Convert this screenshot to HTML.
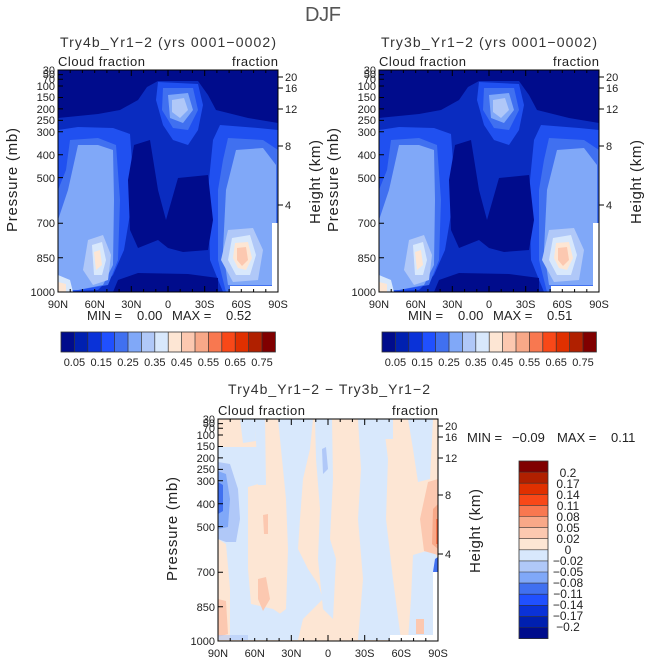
<!DOCTYPE html>
<html><head><meta charset="utf-8"><style>
html,body{margin:0;padding:0;background:#fff;}
svg{display:block;font-family:"Liberation Sans",sans-serif;}
</style></head><body>
<svg width="647" height="664" viewBox="0 0 647 664" xmlns="http://www.w3.org/2000/svg">
<defs>
<g id="field">
  <rect x="0" y="0" width="220" height="222" fill="#000c8c"/>
  <path d="M0,48 L40,44 L62,40 L80,30 L89,17 L100,11 L140,11 L150,25 L158,40 L190,48 L220,53 L220,222 L0,222 Z" fill="#0a2cc0"/>
  <path d="M0,60 L20,57 L55,58 L72,64 L76,120 L66,180 L55,205 L40,220 L0,222 Z" fill="#2050f0"/>
  <path d="M162,55 L200,58 L220,60 L220,222 L165,222 L152,190 L150,120 L155,70 Z" fill="#2050f0"/>
  <path d="M100,12 L140,14 L145,35 L140,60 L130,75 L115,70 L105,55 L98,30 Z" fill="#2050f0"/>
  <path d="M12,70 L40,68 L58,75 L62,130 L60,190 L50,215 L20,220 L0,222 L0,120 L8,100 Z" fill="#4070f0"/>
  <path d="M170,68 L205,70 L220,80 L220,222 L168,222 L160,190 L160,120 L165,90 Z" fill="#4070f0"/>
  <path d="M105,18 L135,18 L140,40 L130,60 L115,58 L104,40 Z" fill="#4070f0"/>
  <path d="M20,75 L40,75 L55,80 L56,130 L55,195 L45,215 L20,220 L0,220 L0,150 L10,120 Z" fill="#80a8f8"/>
  <path d="M178,80 L205,78 L218,95 L218,215 L170,215 L165,180 L168,120 Z" fill="#80a8f8"/>
  <path d="M110,25 L130,23 L135,40 L125,53 L112,48 Z" fill="#80a8f8"/>
  <path d="M30,170 L45,165 L53,185 L50,210 L35,215 L25,200 Z" fill="#b0c8f8"/>
  <path d="M170,160 L195,158 L205,180 L200,210 L175,212 L163,190 Z" fill="#b0c8f8"/>
  <path d="M114,30 L126,28 L130,40 L122,48 L114,42 Z" fill="#b0c8f8"/>
  <path d="M0,205 L12,210 L15,222 L0,222 Z" fill="#d8e8fc"/>
  <path d="M34,175 L44,172 L48,190 L44,205 L36,205 Z" fill="#d8e8fc"/>
  <path d="M174,168 L192,165 L198,185 L192,205 L178,205 L170,190 Z" fill="#d8e8fc"/>
  <path d="M36,182 L42,180 L44,195 L38,200 Z" fill="#fde6d4"/>
  <path d="M0,212 L8,214 L8,222 L0,222 Z" fill="#fde6d4"/>
  <path d="M177,173 L190,172 L194,188 L188,200 L180,198 L175,188 Z" fill="#fde6d4"/>
  <path d="M179,178 L188,177 L190,190 L184,196 L179,190 Z" fill="#fcc8b0"/>
  <path d="M76,75 L92,70 L100,120 L108,150 L120,108 L150,105 L155,150 L150,180 L125,182 L110,178 L100,170 L80,178 L72,160 L70,110 Z" fill="#000c8c"/>
  <path d="M60,210 L80,203 L130,204 L160,208 L160,222 L55,222 Z" fill="#000c8c"/>
  <rect x="172" y="216" width="48" height="6" fill="#fff"/>
  <rect x="214" y="153" width="6" height="69" fill="#fff"/>
</g>
<g id="axes" fill="none" stroke="#000" stroke-width="1">
  <rect x="0" y="0" width="220" height="222"/>
  <path d="M0,0h5M0,4.6h5M0,9.2h5M0,16h5M0,27.5h5M0,38.9h5M0,50.4h5M0,61.8h5M0,84.7h5M0,107.6h5M0,153.3h5M0,187.7h5"/>
  <path d="M220,7h5M220,18h5M220,39h5M220,76h5M220,135h5"/>
  <path d="M0,222v-6M73.3,222v-6M146.7,222v-6M110,222v-6M220,222v-6M24.4,222v-3M48.9,222v-3M97.8,222v-3M122.2,222v-3M171.1,222v-3M195.6,222v-3M36.7,222v-3M61.1,222v-3M85.6,222v-3M134.4,222v-3M158.9,222v-3M183.3,222v-3M207.8,222v-3M12.2,222v-3"/>
  <path d="M0,0v6M73.3,0v6M146.7,0v6M110,0v6M220,0v6M24.4,0v3M48.9,0v3M97.8,0v3M122.2,0v3M171.1,0v3M195.6,0v3M36.7,0v3M61.1,0v3M85.6,0v3M134.4,0v3M158.9,0v3M183.3,0v3M207.8,0v3M12.2,0v3"/>
</g>
<g id="labels" fill="#222" font-size="11">
  <g text-anchor="end">
    <text x="-3" y="4">30</text><text x="-3" y="8">50</text><text x="-3" y="13">70</text><text x="-3" y="20">100</text><text x="-3" y="31">150</text><text x="-3" y="43">200</text><text x="-3" y="54">250</text><text x="-3" y="66">300</text><text x="-3" y="89">400</text><text x="-3" y="112">500</text><text x="-3" y="157">700</text><text x="-3" y="192">850</text><text x="-3" y="226">1000</text>
  </g>
  <text x="227" y="11">20</text><text x="227" y="22">16</text><text x="227" y="43">12</text><text x="227" y="80">8</text><text x="227" y="139">4</text>
  <g text-anchor="middle">
    <text x="0" y="238">90N</text><text x="36.7" y="238">60N</text><text x="73.3" y="238">30N</text><text x="110" y="238">0</text><text x="146.7" y="238">30S</text><text x="183.3" y="238">60S</text><text x="220" y="238">90S</text>
  </g>
  <text x="0" y="-4" font-size="13" textLength="87" lengthAdjust="spacing">Cloud fraction</text>
  <text x="174" y="-4" font-size="13" textLength="46" lengthAdjust="spacing">fraction</text>
  <text transform="translate(-41,110) rotate(-90)" x="-52" font-size="15" textLength="104" lengthAdjust="spacing">Pressure (mb)</text>
  <text transform="translate(262,112) rotate(-90)" x="-42" font-size="15" textLength="84" lengthAdjust="spacing">Height (km)</text>
</g>
<g id="cbar">
  <rect x="0" y="0" width="13.4" height="20" fill="#000c8c"/>
  <rect x="13.4" y="0" width="13.4" height="20" fill="#0020b0"/>
  <rect x="26.8" y="0" width="13.4" height="20" fill="#0a32d8"/>
  <rect x="40.2" y="0" width="13.4" height="20" fill="#2050ff"/>
  <rect x="53.6" y="0" width="13.4" height="20" fill="#4070f0"/>
  <rect x="67" y="0" width="13.4" height="20" fill="#80a8f8"/>
  <rect x="80.4" y="0" width="13.4" height="20" fill="#b0c8f8"/>
  <rect x="93.8" y="0" width="13.4" height="20" fill="#d8e8fc"/>
  <rect x="107.2" y="0" width="13.4" height="20" fill="#fde6d4"/>
  <rect x="120.6" y="0" width="13.4" height="20" fill="#fcc8b0"/>
  <rect x="134" y="0" width="13.4" height="20" fill="#f8a888"/>
  <rect x="147.4" y="0" width="13.4" height="20" fill="#f87850"/>
  <rect x="160.8" y="0" width="13.4" height="20" fill="#f84818"/>
  <rect x="174.2" y="0" width="13.4" height="20" fill="#e03000"/>
  <rect x="187.6" y="0" width="13.4" height="20" fill="#b02000"/>
  <rect x="201" y="0" width="13.4" height="20" fill="#800000"/>
  <path d="M13.4,0v20M26.8,0v20M40.2,0v20M53.6,0v20M67,0v20M80.4,0v20M93.8,0v20M107.2,0v20M120.6,0v20M134,0v20M147.4,0v20M160.8,0v20M174.2,0v20M187.6,0v20M201,0v20" stroke="#333" stroke-width="0.7"/>
  <rect x="0" y="0" width="214.4" height="20" fill="none" stroke="#333" stroke-width="0.8"/>
  <g font-size="11" fill="#222" text-anchor="middle">
    <text x="13.4" y="34">0.05</text><text x="40.2" y="34">0.15</text><text x="67" y="34">0.25</text><text x="93.8" y="34">0.35</text><text x="120.6" y="34">0.45</text><text x="147.4" y="34">0.55</text><text x="174.2" y="34">0.65</text><text x="201" y="34">0.75</text>
  </g>
</g>
</defs>

<text x="305" y="21" font-size="20" fill="#555" textLength="36" lengthAdjust="spacing">DJF</text>

<text x="60" y="47" font-size="14" fill="#333" textLength="216" lengthAdjust="spacing">Try4b_Yr1−2 (yrs 0001−0002)</text>
<g transform="translate(58,70)"><use href="#field"/><use href="#axes"/><use href="#labels"/></g>
<g font-size="13" fill="#222"><text x="87" y="320">MIN =</text><text x="137" y="320">0.00</text><text x="172" y="320">MAX =</text><text x="226" y="320">0.52</text></g>
<g transform="translate(61,332)"><use href="#cbar"/></g>

<text x="381" y="47" font-size="14" fill="#333" textLength="216" lengthAdjust="spacing">Try3b_Yr1−2 (yrs 0001−0002)</text>
<g transform="translate(379,70)"><use href="#field"/><use href="#axes"/><use href="#labels"/></g>
<g font-size="13" fill="#222"><text x="408" y="320">MIN =</text><text x="458" y="320">0.00</text><text x="493" y="320">MAX =</text><text x="547" y="320">0.51</text></g>
<g transform="translate(382,332)"><use href="#cbar"/></g>

<text x="228" y="394" font-size="14" fill="#333" textLength="202" lengthAdjust="spacing">Try4b_Yr1−2 − Try3b_Yr1−2</text>
<g transform="translate(218,419)">
  <rect x="0" y="0" width="220" height="222" fill="#fde6d4"/>
  <path d="M0,28 L47,28 L47,63 L30,68 L30,150 L33,185 L55,190 L70,200 L70,221 L0,221 Z" fill="#d8e8fc"/>
  <path d="M22,0 L37,0 L38,22 L25,24 Z" fill="#d8e8fc"/>
  <path d="M37,0 L47,0 L48,66 L40,66 Z" fill="#d8e8fc"/>
  <path d="M60,0 L95,0 L92,30 L85,60 L82,100 L80,130 L90,150 L100,165 L105,180 L85,200 L80,221 L50,221 L55,200 L68,190 L70,130 L68,80 L64,40 Z" fill="#d8e8fc"/>
  <path d="M97,0 L114,0 L115,60 L112,120 L118,140 L115,200 L105,190 L100,140 L102,90 L98,40 Z" fill="#d8e8fc"/>
  <path d="M140,0 L165,0 L170,40 L168,100 L175,160 L183,221 L140,221 L145,160 L140,100 L143,50 Z" fill="#d8e8fc"/>
  <path d="M158,0 L175,0 L175,20 L162,20 Z" fill="#d8e8fc"/>
  <path d="M190,0 L215,0 L212,60 L200,63 L195,30 Z" fill="#d8e8fc"/>
  <path d="M195,136 L215,130 L220,140 L220,221 L190,221 L193,180 Z" fill="#d8e8fc"/>
  <path d="M0,43 L12,45 L20,70 L22,100 L18,123 L8,123 L0,120 Z" fill="#b0c8f8"/>
  <path d="M0,52 L8,55 L12,80 L10,108 L0,110 Z" fill="#80a8f8"/>
  <path d="M0,63 L5,66 L5,92 L0,95 Z" fill="#4070f0"/>
  <path d="M104,30 L108,28 L110,50 L105,55 Z" fill="#b0c8f8"/>
  <path d="M0,120 L8,125 L12,170 L12,221 L0,221 Z" fill="#fde6d4"/>
  <path d="M0,180 L8,182 L10,215 L0,218 Z" fill="#fcc8b0"/>
  <path d="M40,160 L48,158 L52,180 L45,192 L40,180 Z" fill="#fcc8b0"/>
  <path d="M198,200 L206,200 L206,215 L198,215 Z" fill="#fcc8b0"/>
  <path d="M45,96 L50,95 L50,115 L46,115 Z" fill="#fcc8b0"/>
  <path d="M210,63 L220,60 L220,136 L206,132 L202,100 Z" fill="#fcc8b0"/>
  <path d="M215,90 L220,85 L220,130 L214,125 Z" fill="#f8a888"/>
  <path d="M218,100 L220,100 L220,125 L218,125 Z" fill="#f87850"/>
  <path d="M217,140 L220,138 L220,155 L215,153 Z" fill="#4070f0"/>
  <path d="M0,216 L30,216 L30,221 L0,221 Z" fill="#b0c8f8" opacity="0.6"/>
  <rect x="172" y="216" width="48" height="6" fill="#fff"/>
  <rect x="215" y="153" width="5" height="69" fill="#fff"/>
  <use href="#axes"/><use href="#labels"/>
</g>
<g font-size="13" fill="#222"><text x="467" y="442">MIN =</text><text x="512" y="442">−0.09</text><text x="557" y="442">MAX =</text><text x="611" y="442">0.11</text></g>
<g transform="translate(519,461)">
  <rect x="0" y="0" width="29" height="11.1" fill="#800000"/>
  <rect x="0" y="11.1" width="29" height="11.1" fill="#b02000"/>
  <rect x="0" y="22.2" width="29" height="11.1" fill="#e03000"/>
  <rect x="0" y="33.3" width="29" height="11.1" fill="#f84818"/>
  <rect x="0" y="44.4" width="29" height="11.1" fill="#f87850"/>
  <rect x="0" y="55.5" width="29" height="11.1" fill="#f8a888"/>
  <rect x="0" y="66.6" width="29" height="11.1" fill="#fcc8b0"/>
  <rect x="0" y="77.7" width="29" height="11.1" fill="#fde6d4"/>
  <rect x="0" y="88.8" width="29" height="11.1" fill="#d8e8fc"/>
  <rect x="0" y="99.9" width="29" height="11.1" fill="#b0c8f8"/>
  <rect x="0" y="111" width="29" height="11.1" fill="#80a8f8"/>
  <rect x="0" y="122.1" width="29" height="11.1" fill="#4070f0"/>
  <rect x="0" y="133.2" width="29" height="11.1" fill="#2050ff"/>
  <rect x="0" y="144.3" width="29" height="11.1" fill="#0a32d8"/>
  <rect x="0" y="155.4" width="29" height="11.1" fill="#0020b0"/>
  <rect x="0" y="166.5" width="29" height="11.1" fill="#000c8c"/>
  <path d="M0,11.1h29M0,22.2h29M0,33.3h29M0,44.4h29M0,55.5h29M0,66.6h29M0,77.7h29M0,88.8h29M0,99.9h29M0,111h29M0,122.1h29M0,133.2h29M0,144.3h29M0,155.4h29M0,166.5h29" stroke="#333" stroke-width="0.6"/>
  <rect x="0" y="0" width="29" height="177.6" fill="none" stroke="#333" stroke-width="0.8"/>
  <g font-size="12" fill="#222" text-anchor="middle">
    <text x="49" y="16">0.2</text><text x="49" y="27">0.17</text><text x="49" y="38">0.14</text><text x="49" y="49">0.11</text><text x="49" y="60">0.08</text><text x="49" y="71">0.05</text><text x="49" y="82">0.02</text><text x="49" y="93">0</text><text x="49" y="104">−0.02</text><text x="49" y="115">−0.05</text><text x="49" y="126">−0.08</text><text x="49" y="137">−0.11</text><text x="49" y="148">−0.14</text><text x="49" y="159">−0.17</text><text x="49" y="170">−0.2</text>
  </g>
</g>
</svg>
</body></html>
